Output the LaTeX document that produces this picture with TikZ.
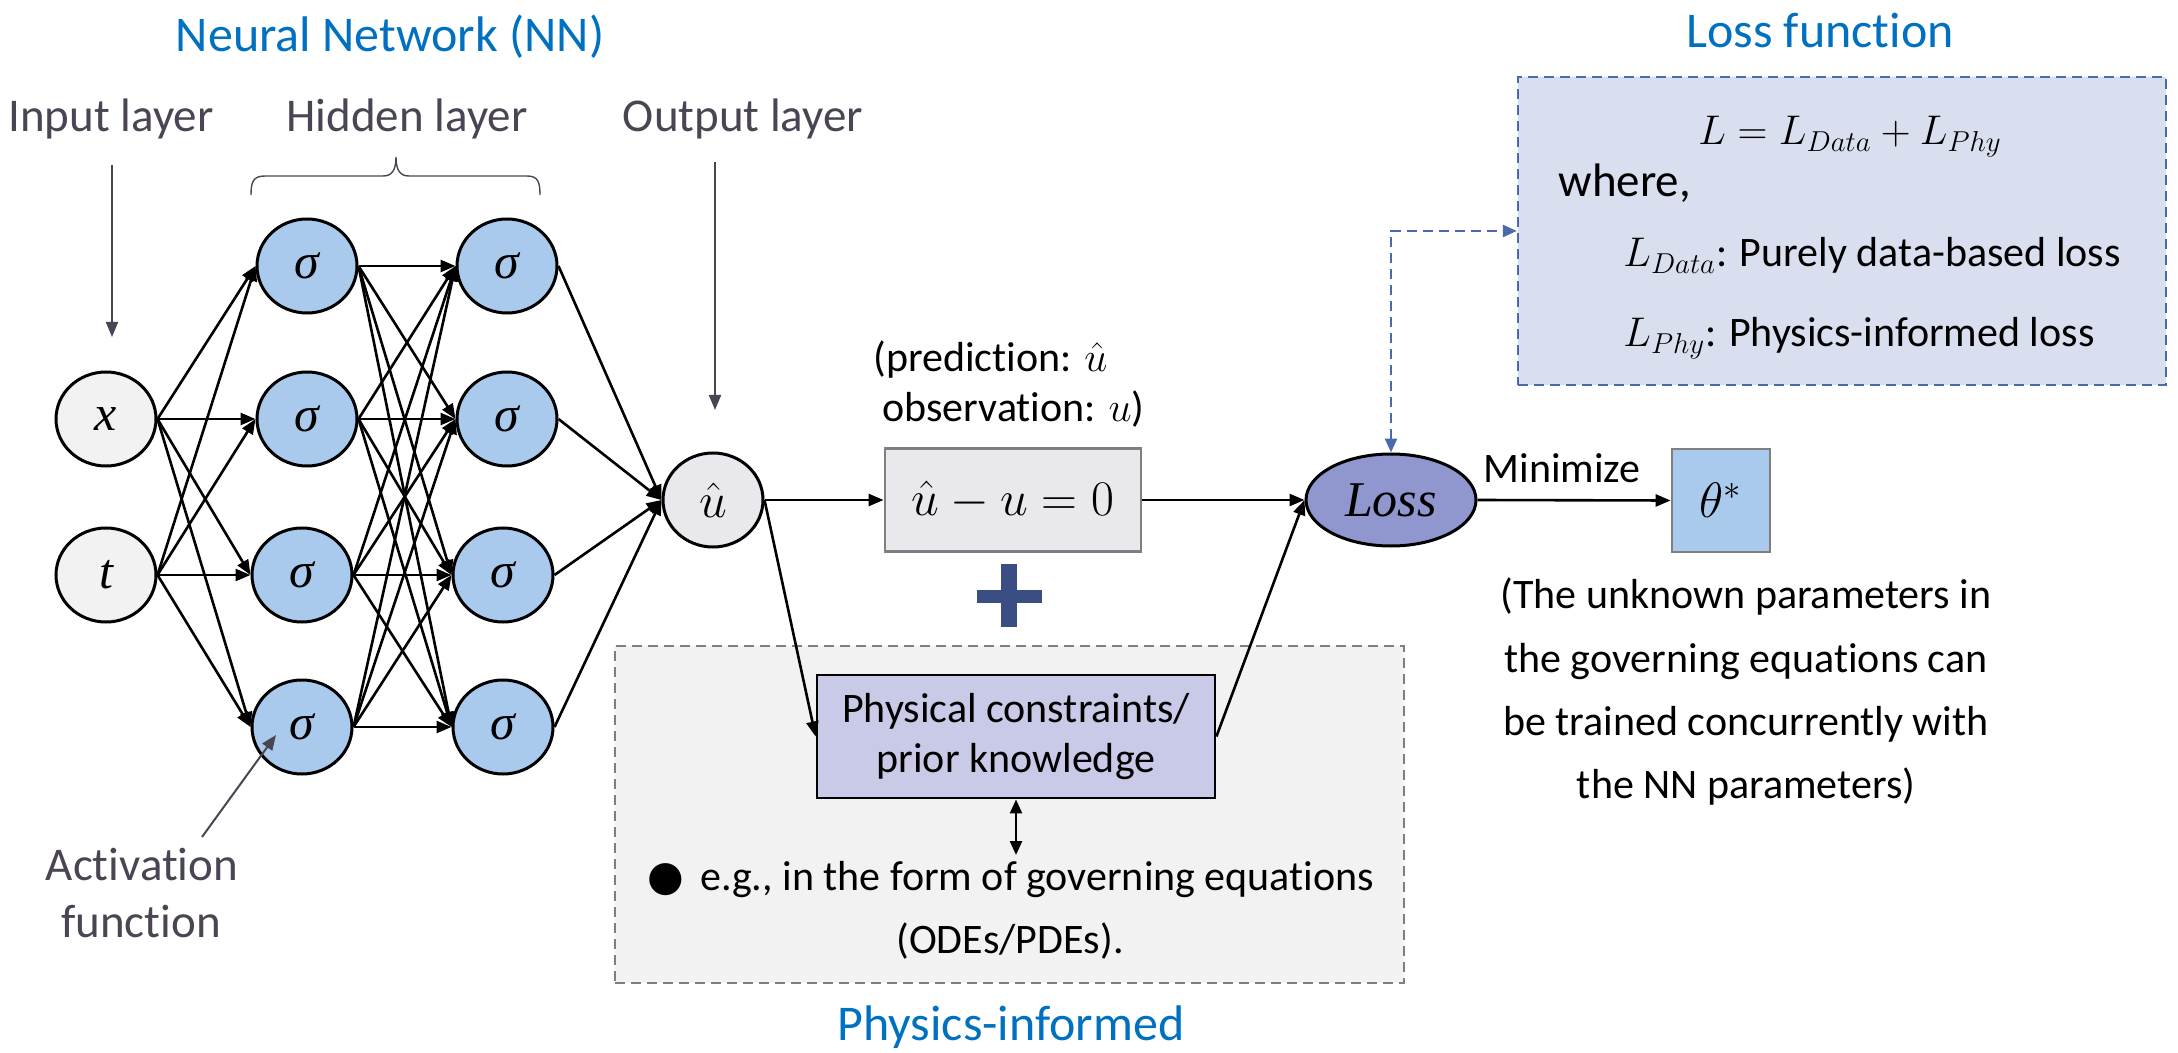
\documentclass[tikz,border=0pt]{standalone}
\usepackage{fontspec}
\setmainfont{Carlito}[Ligatures=NoCommon]
\newfontfamily\tnr{Liberation Serif}
\newfontfamily\dejavu{DejaVu Sans}
\usetikzlibrary{arrows.meta,shapes.geometric}

\definecolor{nnblue}{HTML}{0070C0}
\definecolor{lblgray}{HTML}{4B4452}
\definecolor{sigfill}{HTML}{A9CAEC}
\definecolor{infill}{HTML}{F2F2F2}
\definecolor{uhatfill}{HTML}{E9E8EC}
\definecolor{boxgray}{HTML}{7F7F7F}
\definecolor{physfill}{HTML}{C9CAE7}
\definecolor{lossfill}{HTML}{8F97CE}
\definecolor{lossboxfill}{HTML}{DADFF0}
\definecolor{lossblue}{HTML}{4A6AB0}
\definecolor{plusblue}{HTML}{3A4E84}

\begin{document}
\begin{tikzpicture}[x=0.5pt,y=-0.5pt,
  neuron/.style={ellipse, draw=black, line width=1.5pt, minimum width=50pt, minimum height=47pt, inner sep=0pt},
  sig/.style={neuron, fill=sigfill, font=\fontsize{25}{25}\selectfont\tnr\itshape},
  innode/.style={neuron, fill=infill, font=\fontsize{25}{25}\selectfont\tnr\itshape},
  outnode/.style={neuron, fill=uhatfill, font=\fontsize{27}{27}\selectfont},
  conn/.style={-{Triangle[length=7.5pt,width=6pt]}, line width=1.3pt},
  gptr/.style={draw=lblgray, line width=1pt, -{Triangle[length=7.5pt,width=6pt]}},
  lbl/.style={text=lblgray, font=\fontsize{23.5}{28}\selectfont, anchor=base, inner sep=0pt},
  ttl/.style={text=nnblue, font=\fontsize{25}{30}\selectfont, anchor=base, inner sep=0pt},
  body/.style={font=\fontsize{21}{25}\selectfont, anchor=base, inner sep=0pt},
]
\path[use as bounding box] (0,0) rectangle (2178,1053);

% ---------- backgrounds ----------
\node[draw=boxgray, fill=infill, dashed, dash pattern=on 5pt off 3pt, line width=1.2pt,
      minimum width=394.5pt, minimum height=168.5pt, inner sep=0pt] (physbg) at (1009.5,814.5) {};
\node[draw=lossblue, fill=lossboxfill, dashed, dash pattern=on 5pt off 3pt, line width=1.2pt,
      minimum width=324pt, minimum height=154pt, inner sep=0pt] (lossbox) at (1842,231) {};

% ---------- titles and labels ----------
\node[ttl] (t1) at (390,52) {Neural Network (NN)};
\node[ttl] (t2) at (1820,48) {Loss function};
\node[ttl] (t3) at (1011,1040) {Physics-informed};

\node[lbl] (linput) at (111,132) {Input layer};
\node[lbl] (lhidden) at (407,132) {Hidden layer};
\node[lbl] (loutput) at (743,132) {Output layer};
\node[lbl] (lact1) at (142,880) {Activation};
\node[lbl] (lact2) at (141,937) {function};

% brace over hidden layers
\draw[lblgray, line width=0.7pt]
  (251,195) .. controls (251,182) and (253,176) .. (265,176) -- (383,176)
  .. controls (392,176) and (396,170) .. (396,157)
  .. controls (396,170) and (400,176) .. (409,176) -- (527,176)
  .. controls (538,176) and (540,182) .. (540,195);

% ---------- network nodes ----------
\node[innode] (x) at (106,419) {x};
\node[innode] (t) at (106,575) {t};

\node[sig] (h11) at (307,266) {σ};
\node[sig] (h12) at (307,419) {σ};
\node[sig] (h13) at (302,575) {σ};
\node[sig] (h14) at (302,727) {σ};

\node[sig] (h21) at (507,266) {σ};
\node[sig] (h22) at (507,419) {σ};
\node[sig] (h23) at (503,575) {σ};
\node[sig] (h24) at (503,727) {σ};

\node[outnode] (uh) at (713,500) {$\hat{u}$};

% label pointers
\coordinate (inA) at (112,165);
\coordinate (inB) at (112,337);
\coordinate (outA) at (715,162);
\coordinate (outB) at (715,410);
\coordinate (actA) at (202,837);
\coordinate (actB) at (276,735);
\draw[gptr] (inA) -- (inB);
\draw[gptr] (outA) -- (outB);
\draw[gptr] (actA) -- (actB);

% connections
\foreach \s in {x,t}{
  \foreach \d in {h11,h12,h13,h14}{
    \draw[conn] (\s.east) -- (\d.west);
  }
}
\foreach \s in {h11,h12,h13,h14}{
  \foreach \d in {h21,h22,h23,h24}{
    \draw[conn] (\s.east) -- (\d.west);
  }
}
\foreach \s in {h21,h22,h23,h24}{
  \draw[conn] (\s.east) -- (uh.west);
}

% ---------- data part ----------
\node[body, anchor=base west, align=left] (pred) at (873,422)
  {(prediction: $\hat{u}$\\\hspace*{4.5pt}observation: $u$)};

\node[draw=boxgray, fill=uhatfill, line width=1.4pt, minimum width=128pt, minimum height=51.5pt,
      inner sep=0pt, font=\fontsize{24}{24}\selectfont] (ubox) at (1013,500) {$\hat{u}-u=0$};

% plus sign
\fill[plusblue] (1001,564) rectangle (1017,627);
\fill[plusblue] (977,590) rectangle (1042,603);

% ---------- physics part ----------
\node[draw=black, fill=physfill, line width=1.4pt, minimum width=199pt, minimum height=61.5pt,
      inner sep=0pt, align=center, font=\fontsize{21}{25}\selectfont] (phys) at (1016,736.5)
      {Physical constraints/\\prior knowledge};
\coordinate (physB) at (1016,855);
\draw[{Triangle[length=7pt,width=6pt]}-{Triangle[length=7pt,width=6pt]}, line width=1.2pt] (phys.south) -- (physB);

\node[body] (eg) at (1011,890) {{\dejavu ●}\hspace{3pt} e.g., in the form of governing equations};
\node[body] (ode) at (1010,953) {(ODEs/PDEs).};

% ---------- loss ----------
\node[ellipse, draw=black, fill=lossfill, line width=1.5pt, minimum width=85pt, minimum height=46pt,
      inner sep=0pt, font=\fontsize{25}{25}\selectfont\tnr\itshape] (loss) at (1391,500) {Loss};

\node[draw=boxgray, fill=sigfill, line width=1.4pt, minimum width=49pt, minimum height=51.5pt,
      inner sep=0pt, font=\fontsize{25}{25}\selectfont] (theta) at (1721,500.5) {$\theta^*$};

\node[body] (mini) at (1562,482) {Minimize};

\node[body] (n1) at (1746,608) {(The unknown parameters in};
\node[body] (n2) at (1746,672) {the governing equations can};
\node[body] (n3) at (1746,735) {be trained concurrently with};
\node[body] (n4) at (1746,798) {the NN parameters)};

% loss box text
\node[body, font=\fontsize{22}{22}\selectfont] (leq) at (1850,145) {$L = L_{Data} + L_{Phy}$};
\node[body, anchor=base west, font=\fontsize{23.5}{28}\selectfont] (where) at (1558,197) {where,};
\node[body, anchor=base west] (ld) at (1623,267) {$L_{Data}$: Purely data-based loss};
\node[body, anchor=base west] (lp) at (1623,347) {$L_{Phy}$: Physics-informed loss};

% ---------- connectors ----------
\draw[conn] (uh.east) -- (ubox.west);
\draw[conn] (uh.east) -- (phys.west);
\draw[conn] (ubox.east) -- (loss.west);
\draw[conn] (phys.east) -- (loss.west);
\draw[conn] (loss.east) -- (theta.west);
\draw[lossblue, line width=1.3pt, dashed, dash pattern=on 5pt off 3pt,
      {Triangle[length=7pt,width=6pt]}-{Triangle[length=7pt,width=6pt]}] (loss.north) |- (lossbox.west);
\end{tikzpicture}
\end{document}
